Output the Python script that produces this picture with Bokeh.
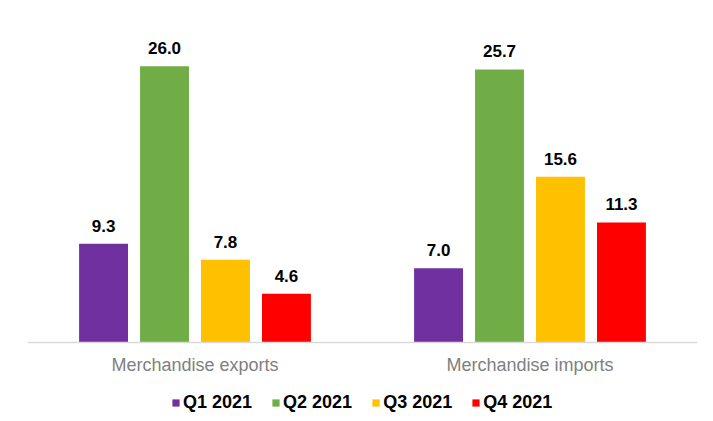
from bokeh.plotting import figure
from bokeh.models import ColumnDataSource, FactorRange, Range1d, Legend, LegendItem
from bokeh.transform import dodge
from bokeh.core.properties import value
from bokeh.embed import file_html
from bokeh.resources import INLINE

categories = ["Merchandise exports", "Merchandise imports"]
quarters = ["Q1 2021", "Q2 2021", "Q3 2021", "Q4 2021"]
q1 = [9.3, 7.0]
q2 = [26.0, 25.7]
q3 = [7.8, 15.6]
q4 = [4.6, 11.3]
colors = ["#7030A0", "#70AD47", "#FFC000", "#FF0000"]

FONT = value("Liberation Sans")

src = ColumnDataSource(dict(
    cat=categories,
    q1=q1, q2=q2, q3=q3, q4=q4,
    l1=[f"{v:.1f}" for v in q1],
    l2=[f"{v:.1f}" for v in q2],
    l3=[f"{v:.1f}" for v in q3],
    l4=[f"{v:.1f}" for v in q4],
))

p = figure(width=713, height=421, output_backend="svg", toolbar_location=None,
           x_range=FactorRange(*categories, range_padding=0),
           y_range=Range1d(-7.43, 30.3),
           min_border_left=27, min_border_right=16, min_border_top=20,
           min_border_bottom=0)

offsets = [-0.273, -0.091, 0.091, 0.273]
renderers = []
for i, key in enumerate(["q1", "q2", "q3", "q4"]):
    r = p.vbar(x=dodge("cat", offsets[i], range=p.x_range), top=key, bottom=0, width=0.146,
               source=src, fill_color=colors[i], line_color=None)
    renderers.append(r)
    p.text(x=dodge("cat", offsets[i], range=p.x_range), y=key, text="l" + str(i + 1),
           source=src, text_align="center", text_baseline="alphabetic", y_offset=-18,
           text_font=FONT, text_font_size="17px", text_font_style="bold",
           text_color="#000000")

p.yaxis.visible = False
p.xgrid.grid_line_color = None
p.ygrid.grid_line_color = None
p.outline_line_color = None

ax = p.xaxis[0]
ax.fixed_location = 0
ax.axis_line_color = "#d9d9d9"
ax.axis_line_width = 1.5
ax.major_tick_line_color = None
ax.minor_tick_line_color = None
ax.major_label_text_color = "#808080"
ax.major_label_text_font = "Liberation Sans"
ax.major_label_text_font_size = "18px"
ax.major_label_standoff = 6

legend = Legend(items=[LegendItem(label=quarters[i], renderers=[renderers[i]]) for i in range(4)],
                orientation="horizontal", location=(144, 8),
                glyph_width=9, glyph_height=9, label_standoff=3, spacing=19,
                label_text_font="Liberation Sans", label_text_font_size="18px",
                label_text_font_style="bold", label_text_color="#000000",
                label_height=20, border_line_color=None, background_fill_alpha=0,
                padding=0, margin=0)
p.add_layout(legend, "center")

open("out.html", "w").write(file_html(p, INLINE))
